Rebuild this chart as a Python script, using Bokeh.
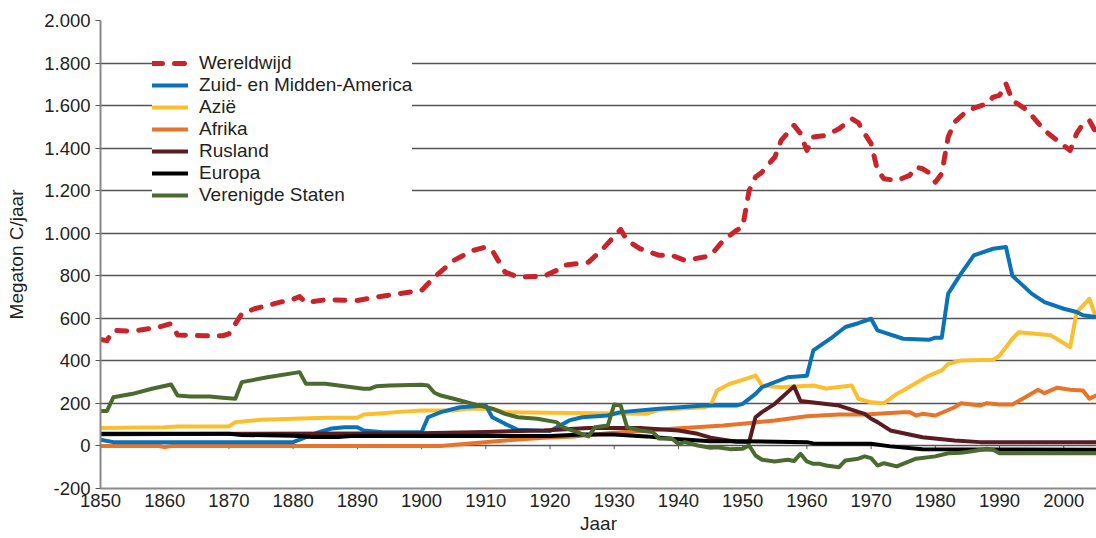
from bokeh.plotting import figure
from bokeh.models import (Range1d, FixedTicker, CustomJSTickFormatter, Legend, LegendItem)
from bokeh.embed import file_html
from bokeh.resources import INLINE

FONT = "Liberation Sans"
FS_TICK = "18.5px"
FS_TEXT = "19px"

# ---- data (Megaton C/jaar) ----
wereld_jaar = [1850, 1851, 1852, 1855, 1859, 1861, 1862, 1866, 1869, 1870, 1872, 1874, 1878, 1880, 1881, 1882,
               1885, 1890, 1893, 1897, 1900, 1902, 1905, 1908, 1910, 1911, 1913, 1915, 1919, 1921, 1922, 1926,
               1928, 1931, 1932, 1934, 1937, 1939, 1941, 1944, 1945, 1947, 1949, 1950, 1951, 1952, 1953, 1955,
               1956, 1958, 1959, 1960, 1961, 1963, 1965, 1967, 1968, 1969, 1970, 1971, 1972, 1974, 1976, 1977,
               1978, 1979, 1980, 1981, 1982, 1983, 1985, 1988, 1989, 1990, 1991, 1992, 1994, 1995, 1997, 1999,
               2001, 2002, 2003, 2004, 2005]
wereld_val = [500, 495, 543, 540, 558, 575, 522, 518, 518, 527, 621, 645, 676, 690, 702, 674,
              687, 684, 700, 718, 731, 794, 872, 919, 935, 919, 817, 794, 797, 825, 849, 864,
              919, 1018, 966, 928, 896, 896, 872, 888, 896, 966, 1013, 1029, 1200, 1264, 1287, 1358,
              1436, 1507, 1469, 1389, 1452, 1460, 1491, 1538, 1520, 1468, 1421, 1295, 1256, 1248, 1272, 1311,
              1303, 1285, 1240, 1280, 1452, 1522, 1577, 1609, 1640, 1648, 1703, 1624, 1585, 1554, 1483, 1436,
              1389, 1468, 1515, 1530, 1475]

amerika_jaar = [1850, 1852, 1880, 1884, 1886, 1888, 1890, 1891, 1894, 1900, 1901, 1903, 1906, 1910, 1911, 1913,
                1915, 1920, 1923, 1925, 1929, 1931, 1937, 1944, 1949, 1950, 1952, 1953, 1957, 1960, 1961, 1964,
                1966, 1968, 1970, 1971, 1975, 1979, 1980, 1981, 1982, 1984, 1986, 1989, 1991, 1992, 1995, 1997,
                2000, 2002, 2003, 2005]
amerika_val = [29, 18, 18, 65, 82, 88, 88, 73, 65, 65, 135, 159, 182, 190, 135, 104,
               76, 70, 120, 135, 143, 159, 175, 190, 190, 198, 245, 276, 323, 330, 449, 512,
               559, 577, 598, 543, 504, 499, 509, 509, 716, 810, 896, 927, 935, 800, 716, 676,
               645, 630, 614, 606]

azie_jaar = [1850, 1860, 1862, 1870, 1871, 1875, 1880, 1885, 1890, 1891, 1894, 1896, 1900, 1905, 1907, 1911,
             1913, 1920, 1935, 1937, 1944, 1945, 1946, 1948, 1950, 1952, 1953, 1956, 1961, 1963, 1967, 1968,
             1970, 1972, 1974, 1975, 1979, 1981, 1982, 1984, 1989, 1990, 1992, 1993, 1998, 2001, 2002, 2004,
             2005]
azie_val = [84, 88, 92, 92, 112, 123, 128, 133, 133, 148, 154, 159, 167, 167, 175, 175,
            159, 156, 151, 170, 182, 190, 261, 292, 311, 331, 284, 276, 284, 270, 284, 222,
            205, 201, 245, 261, 331, 355, 386, 402, 405, 425, 504, 535, 520, 465, 629, 692,
            606]

afrika_jaar = [1850, 1859, 1860, 1861, 1903, 1908, 1913, 1919, 1924, 1929, 1939, 1947, 1950, 1955, 1960, 1965,
               1969, 1975, 1976, 1977, 1978, 1980, 1983, 1984, 1987, 1988, 1990, 1992, 1994, 1996, 1997, 1999,
               2001, 2003, 2004, 2005]
afrika_val = [0, 0, -5, 0, 0, 13, 26, 38, 45, 60, 81, 96, 104, 120, 140, 148,
              148, 159, 159, 143, 151, 143, 182, 201, 190, 201, 195, 195, 229, 264, 248, 274,
              264, 261, 222, 237]

rusland_jaar = [1850, 1890, 1900, 1910, 1919, 1926, 1934, 1940, 1943, 1945, 1949, 1951, 1952, 1953, 1955, 1958,
                1959, 1962, 1965, 1968, 1969, 1970, 1971, 1973, 1978, 1983, 1987, 2005]
rusland_val = [55, 58, 60, 66, 73, 84, 84, 73, 57, 39, 20, 18, 135, 159, 198, 280,
               211, 201, 190, 160, 151, 128, 112, 73, 41, 26, 18, 18]

europa_jaar = [1850, 1870, 1872, 1880, 1883, 1887, 1889, 1920, 1925, 1930, 1935, 1939, 1945, 1950, 1960, 1961,
               1970, 1973, 1978, 2005]
europa_val = [57, 57, 52, 48, 42, 42, 47, 47, 54, 54, 45, 34, 22, 22, 18, 12,
              10, -2, -16, -18]

vs_jaar = [1850, 1851, 1852, 1855, 1858, 1861, 1862, 1864, 1867, 1869, 1871, 1872, 1876, 1881, 1882, 1885,
           1888, 1891, 1892, 1893, 1895, 1900, 1901, 1902, 1903, 1905, 1908, 1911, 1913, 1915, 1918, 1921,
           1922, 1926, 1927, 1929, 1930, 1931, 1932, 1934, 1936, 1937, 1939, 1940, 1941, 1943, 1945, 1946,
           1948, 1950, 1951, 1952, 1953, 1955, 1957, 1958, 1959, 1960, 1961, 1962, 1963, 1965, 1966, 1968,
           1969, 1970, 1971, 1972, 1974, 1977, 1980, 1982, 1984, 1986, 1988, 1989, 1990, 2005]
vs_val = [164, 164, 229, 245, 269, 289, 237, 233, 233, 227, 222, 300, 323, 347, 292, 292,
          281, 269, 269, 281, 284, 288, 284, 250, 237, 222, 198, 175, 151, 135, 128, 112,
          88, 45, 88, 96, 195, 190, 88, 73, 65, 35, 34, 10, 18, 2, -8, -6,
          -15, -13, 2, -45, -65, -73, -65, -71, -37, -73, -84, -84, -92, -100, -68, -60,
          -49, -57, -92, -81, -96, -60, -49, -34, -32, -24, -13, -18, -34, -34]

x_ticks = list(range(1850, 2001, 10))
y_ticks = list(range(-200, 2001, 200))

p = figure(width=1096, height=536, output_backend="svg", toolbar_location=None,
           x_range=Range1d(1850, 2005.1), y_range=Range1d(-200, 2000),
           min_border_left=100, min_border_right=0, min_border_top=20, min_border_bottom=48)
p.outline_line_color = None
p.background_fill_color = "white"

# axes
p.xaxis.ticker = FixedTicker(ticks=x_ticks)
p.xaxis.major_tick_out = 0
p.xaxis.major_tick_in = 0
p.xaxis.minor_tick_line_color = None
p.xaxis.axis_line_color = "#8a8a8a"
p.xaxis.axis_line_width = 2
p.xaxis.major_label_standoff = 5
p.xaxis.axis_label = "Jaar"
p.xaxis.axis_label_standoff = 3

p.yaxis.ticker = FixedTicker(ticks=y_ticks)
p.yaxis.formatter = CustomJSTickFormatter(code="return tick.toString().replace(/\\B(?=(\\d{3})+(?!\\d))/g, '.');")
p.yaxis.major_tick_out = 5
p.yaxis.major_tick_in = 0
p.yaxis.minor_tick_line_color = None
p.yaxis.major_tick_line_color = "#555555"
p.yaxis.axis_line_color = "#8a8a8a"
p.yaxis.axis_line_width = 2
p.yaxis.major_label_standoff = 5
p.yaxis.axis_label = "Megaton C/jaar"
p.yaxis.axis_label_standoff = 14

for ax in (p.xaxis, p.yaxis):
    ax.major_label_text_font = FONT
    ax.major_label_text_font_size = FS_TICK
    ax.major_label_text_color = "#231f20"
    ax.axis_label_text_font = FONT
    ax.axis_label_text_font_size = FS_TEXT
    ax.axis_label_text_font_style = "normal"
    ax.axis_label_text_color = "#231f20"

p.xgrid.visible = False
p.ygrid.ticker = FixedTicker(ticks=y_ticks)
p.ygrid.grid_line_color = "#555555"
p.ygrid.grid_line_width = 1.3

# small tick marks hanging below the zero line
p.segment(x0=x_ticks, y0=[0] * len(x_ticks), x1=x_ticks, y1=[-15] * len(x_ticks),
          line_color="#555555", line_width=1)

common = dict(line_width=4, line_join="round", line_cap="round")
r_af = p.line(afrika_jaar, afrika_val, line_color="#e8742a", **common)
r_az = p.line(azie_jaar, azie_val, line_color="#fdbe2d", **common)
r_am = p.line(amerika_jaar, amerika_val, line_color="#0b72b8", **common)
r_ru = p.line(rusland_jaar, rusland_val, line_color="#5b1c21", **common)
r_eu = p.line(europa_jaar, europa_val, line_color="#000000", **common)
r_vs = p.line(vs_jaar, vs_val, line_color="#4b6a2f", **common)
r_we = p.line(wereld_jaar, wereld_val, line_color="#c8242b", line_width=5, line_dash="10 12",
              line_join="round", line_cap="round")

legend = Legend(items=[
    LegendItem(label="Wereldwijd", renderers=[r_we]),
    LegendItem(label="Zuid- en Midden-America", renderers=[r_am]),
    LegendItem(label="Azië", renderers=[r_az]),
    LegendItem(label="Afrika", renderers=[r_af]),
    LegendItem(label="Rusland", renderers=[r_ru]),
    LegendItem(label="Europa", renderers=[r_eu]),
    LegendItem(label="Verenigde Staten", renderers=[r_vs]),
], location=(52, 282))
legend.label_text_font = FONT
legend.label_text_font_size = FS_TEXT
legend.label_text_color = "#231f20"
legend.glyph_width = 36
legend.glyph_height = 22
legend.label_height = 22
legend.spacing = 0
legend.padding = 10
legend.margin = 0
legend.label_standoff = 11
legend.border_line_color = None
legend.background_fill_color = "white"
legend.background_fill_alpha = 1.0
p.add_layout(legend)

open("out.html", "w").write(file_html(p, INLINE))
